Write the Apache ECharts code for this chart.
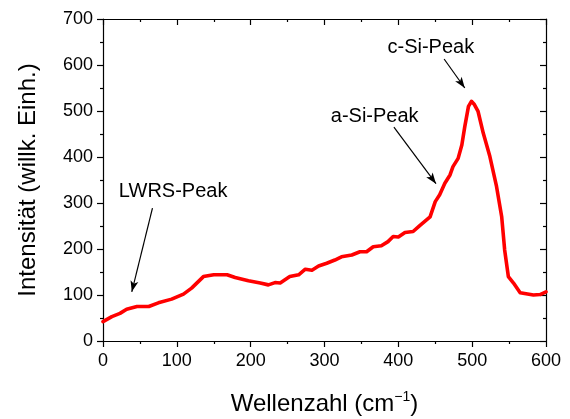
<!DOCTYPE html>
<html>
<head>
<meta charset="utf-8">
<script src="https://cdn.jsdelivr.net/npm/echarts@6/dist/echarts.min.js"></script>
<style>
  html, body { margin: 0; padding: 0; background: #fff; }
  #chart { width: 570px; height: 419px; }
</style>
</head>
<body>
<div id="chart"></div>
<script>
// Raman spectrum: wavenumber (cm^-1) and intensity (arb. units)
const wavenumber = [0, 12, 23, 32, 46, 62, 75, 93, 109, 120, 136, 150, 168, 179, 197, 213, 224, 233, 240, 253,
  265, 274, 283, 292, 303, 314, 323, 337, 348, 357, 366, 377, 386, 393, 400, 409, 420, 429, 443, 450,
  456, 463, 470, 474, 481, 486, 490, 495, 499, 503, 508, 515, 524, 533, 540, 544, 549, 556, 565, 583, 592, 600];
const intensity = [42, 53, 60, 69, 75, 75, 83, 91, 102, 115, 140, 144, 144, 138, 131, 126, 122, 127, 126, 140,
  144, 156, 154, 163, 169, 176, 183, 187, 194, 194, 205, 207, 216, 227, 226, 236, 238, 251, 270, 303,
  318, 343, 361, 379, 397, 426, 466, 510, 521, 514, 499, 452, 401, 336, 270, 198, 140, 126, 105, 100, 101, 107];

const xTicks = [0, 100, 200, 300, 400, 500, 600];
const yTicks = [0, 100, 200, 300, 400, 500, 600, 700];

// Peak annotations: label position and arrow (from -> to), in data units
const peakNames = ['LWRS-Peak', 'a-Si-Peak', 'c-Si-Peak'];
const peakLabelAt = [[95, 324], [368, 487], [444, 637]];
const peakArrowFrom = [[67, 289], [394, 465], [462, 613]];
const peakArrowTo = [[39, 107], [451, 342], [490, 550]];

const FONT = 'Liberation Sans, Arial, sans-serif';
const xStep = xTicks[1] - xTicks[0];
const yStep = yTicks[1] - yTicks[0];

const chart = echarts.init(document.getElementById('chart'), null, { renderer: 'canvas' });

const axisLineStyle = { color: '#000', width: 1.2 };

const mainX = {
  type: 'value', min: xTicks[0], max: xTicks[xTicks.length - 1], interval: xStep,
  position: 'bottom',
  name: 'Wellenzahl (cm{sup|\u22121})',
  nameLocation: 'middle', nameGap: 49,
  nameTextStyle: {
    fontFamily: FONT, fontSize: 24, color: '#000',
    rich: { sup: { fontFamily: FONT, fontSize: 14, color: '#000', verticalAlign: 'top', padding: [0, 0, 14, 0] } }
  },
  axisLine: { show: true, onZero: false, lineStyle: axisLineStyle },
  axisTick: { show: true, inside: false, length: 6, lineStyle: axisLineStyle },
  minorTick: { show: true, splitNumber: 2, length: 3, lineStyle: axisLineStyle },
  splitLine: { show: false },
  axisLabel: { fontFamily: FONT, fontSize: 18, color: '#000', margin: 11 }
};
const topX = {
  type: 'value', min: xTicks[0], max: xTicks[xTicks.length - 1], interval: xStep,
  position: 'top',
  axisLine: { show: true, onZero: false, lineStyle: axisLineStyle },
  axisTick: { show: true, inside: true, length: 6, lineStyle: axisLineStyle },
  minorTick: { show: true, splitNumber: 2, length: 3, lineStyle: axisLineStyle },
  splitLine: { show: false },
  axisLabel: { show: false }
};
const mainY = {
  type: 'value', min: yTicks[0], max: yTicks[yTicks.length - 1], interval: yStep,
  position: 'left',
  name: 'Intensität (willk. Einh.)',
  nameLocation: 'middle', nameGap: 63,
  nameTextStyle: { fontFamily: FONT, fontSize: 24, color: '#000' },
  axisLine: { show: true, onZero: false, lineStyle: axisLineStyle },
  axisTick: { show: true, inside: false, length: 6, lineStyle: axisLineStyle },
  minorTick: { show: true, splitNumber: 2, length: 3, lineStyle: axisLineStyle },
  splitLine: { show: false },
  axisLabel: { fontFamily: FONT, fontSize: 18, color: '#000', margin: 10 }
};
const rightY = {
  type: 'value', min: yTicks[0], max: yTicks[yTicks.length - 1], interval: yStep,
  position: 'right',
  axisLine: { show: true, onZero: false, lineStyle: axisLineStyle },
  axisTick: { show: true, inside: true, length: 6, lineStyle: axisLineStyle },
  minorTick: { show: true, splitNumber: 2, length: 3, lineStyle: axisLineStyle },
  splitLine: { show: false },
  axisLabel: { show: false }
};

const spectrum = wavenumber.map((x, i) => [x, intensity[i]]);

chart.setOption({
  animation: false,
  backgroundColor: '#fff',
  grid: { left: 103, right: 24, top: 19, bottom: 78, containLabel: false, outerBoundsMode: 'none' },
  xAxis: [mainX, topX],
  yAxis: [mainY, rightY],
  series: [{
    type: 'line',
    xAxisIndex: 0, yAxisIndex: 0,
    data: spectrum,
    showSymbol: false,
    smooth: false,
    lineStyle: { color: '#ff0000', width: 3.6, join: 'round', cap: 'round' },
    z: 3,
    markLine: {
      silent: true,
      symbol: ['none', 'arrow'],
      symbolSize: [6, 11],
      label: { show: false },
      lineStyle: { color: '#000', width: 1.2, type: 'solid' },
      data: peakNames.map((n, i) => [
        { coord: peakArrowFrom[i], symbol: 'none' },
        { coord: peakArrowTo[i], symbol: 'arrow' }
      ])
    },
    markPoint: {
      silent: true,
      symbol: 'circle',
      symbolSize: 0,
      data: peakNames.map((n, i) => ({
        coord: peakLabelAt[i],
        value: n,
        label: {
          show: true, position: 'inside', formatter: n,
          fontFamily: FONT, fontSize: 20, color: '#000'
        }
      }))
    }
  }]
});
</script>
</body>
</html>
